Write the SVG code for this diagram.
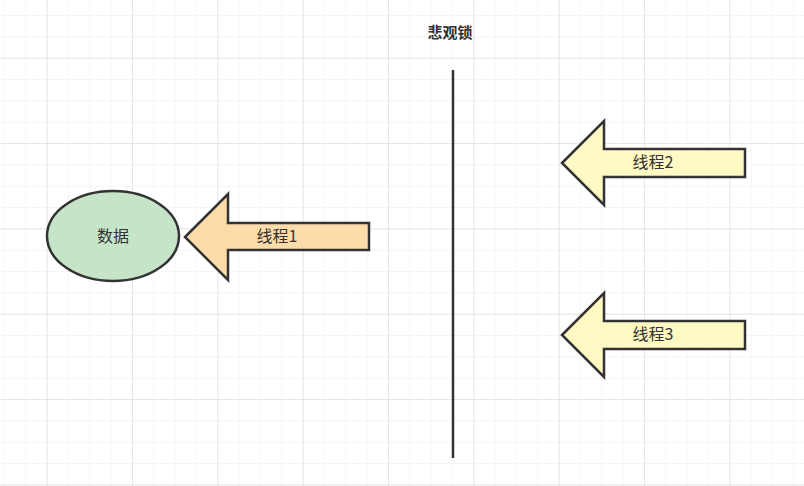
<svg xmlns="http://www.w3.org/2000/svg" width="804" height="486" viewBox="0 0 804 486">
<defs>
<pattern id="g" x="4" y="15" width="21.333" height="21.333" patternUnits="userSpaceOnUse"><path d="M0 0H21.333M0 0V21.333" stroke="#ececec" stroke-width="1" fill="none"/></pattern>
<pattern id="G" x="46.67" y="57.67" width="85.333" height="85.333" patternUnits="userSpaceOnUse"><path d="M0 0H85.333M0 0V85.333" stroke="#e2e2e2" stroke-width="1.5" fill="none"/></pattern>
</defs>
<style>
.s{stroke:#333;stroke-width:2.5;stroke-linejoin:miter}
.t{font-family:"Noto Sans CJK SC","Liberation Sans",sans-serif;font-size:16px;fill:#333;text-anchor:middle}
</style>
<rect width="804" height="486" fill="#fff"/>
<rect width="804" height="486" fill="url(#g)"/>
<rect width="804" height="486" fill="url(#G)"/>
<g id="title"><text class="t" x="450" y="38" font-weight="bold" style="font-size:15px">悲观锁</text></g>
<g id="connectors"><line x1="453" y1="70" x2="453" y2="458" stroke="#333" stroke-width="2.5"/></g>
<g id="data"><ellipse class="s" cx="113" cy="236" rx="66" ry="45" fill="#c6e5c8"/><text class="t" x="113" y="242">数据</text></g>
<g id="thread1"><path class="s" fill="#fedcaa" d="M185 237L228 194V223H369V250H228V280Z"/><text class="t" x="277" y="242">线程1</text></g>
<g id="thread2"><path class="s" fill="#fff9c4" d="M562 163L604 121V149H745V177H604V205Z"/><text class="t" x="653" y="168">线程2</text></g>
<g id="thread3"><path class="s" fill="#fff9c4" d="M562 335L604 293V321H745V349H604V377Z"/><text class="t" x="653" y="340">线程3</text></g>
</svg>
